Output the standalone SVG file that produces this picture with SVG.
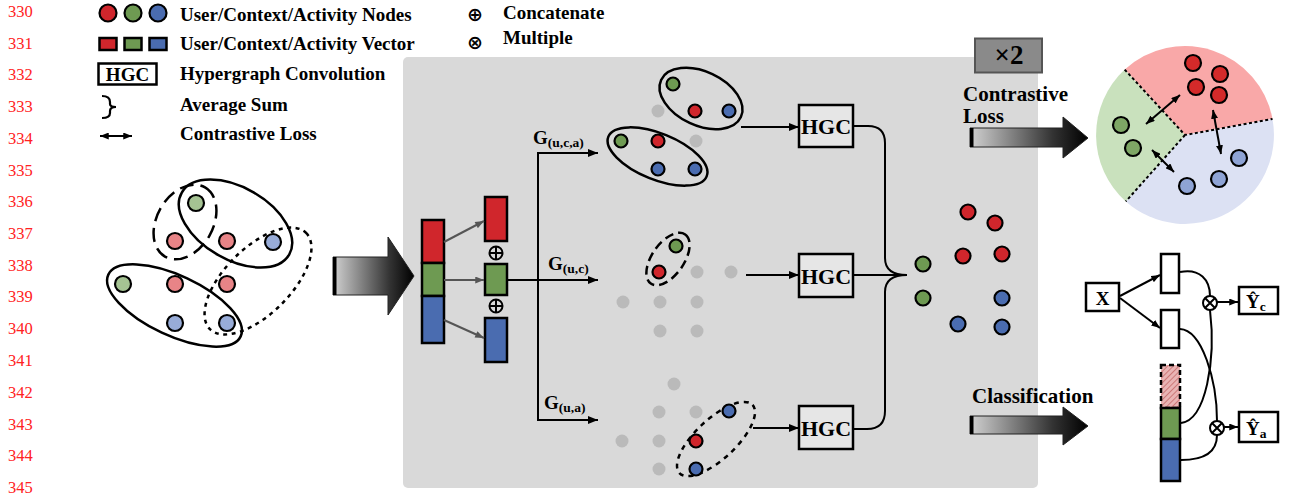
<svg xmlns="http://www.w3.org/2000/svg" width="1291" height="496" viewBox="0 0 1291 496">
<style>
.ln{font-family:"Liberation Serif","Times New Roman",serif;font-size:16.5px;fill:#f22}
.lg{font-family:"Liberation Serif","Times New Roman",serif;font-size:19px;font-weight:bold;fill:#000}
.sym{font-family:"DejaVu Sans",sans-serif;font-size:19px;font-weight:bold;fill:#000;text-anchor:middle}
.hgc{font-family:"Liberation Serif","Times New Roman",serif;font-size:22px;font-weight:bold;fill:#000;text-anchor:middle}
.g{font-family:"Liberation Serif","Times New Roman",serif;font-size:19px;font-weight:bold;fill:#000}
.sub{font-size:13.5px}
.big{font-family:"Liberation Serif","Times New Roman",serif;font-size:21px;font-weight:bold;fill:#000}
.box{fill:#fff;stroke:#000;stroke-width:2.5}
.hbox{fill:#e6e6e6;stroke:#000;stroke-width:2.5}
.n{stroke:#000;stroke-width:2.2}
.R{fill:#d0262c}.G{fill:#6e9a52}.B{fill:#4a6cb0}
.lr{fill:#e88487}.lgn{fill:#a5c393}.lb{fill:#98acd8}
.cb{fill:#8ea3d4}.cg{fill:#7ea765}.cr{fill:#d42a2a}
.gd{fill:#bababa}
.ell{fill:none;stroke:#000;stroke-width:2.5}
.wire{fill:none;stroke:#000;stroke-width:2}
.garr{fill:none;stroke:#555;stroke-width:2}
.vec{stroke:#000;stroke-width:2.5}
.op{fill:none;stroke:#000;stroke-width:2}
</style>
<defs>
<marker id="ah" viewBox="0 0 10 8" refX="10" refY="4" markerWidth="11" markerHeight="8" markerUnits="userSpaceOnUse" orient="auto-start-reverse"><path d="M0,0 L10,4 L0,8 Z" fill="#000"/></marker>
<marker id="ahs" viewBox="0 0 10 8" refX="10" refY="4" markerWidth="9" markerHeight="7" markerUnits="userSpaceOnUse" orient="auto-start-reverse"><path d="M0,0 L10,4 L0,8 Z" fill="#000"/></marker>
<marker id="ahg" viewBox="0 0 10 8" refX="10" refY="4" markerWidth="10" markerHeight="7" markerUnits="userSpaceOnUse" orient="auto"><path d="M0,0 L10,4 L0,8 Z" fill="#555"/></marker>
<linearGradient id="grad" x1="0" y1="0" x2="1" y2="0"><stop offset="0" stop-color="#d2d2d2"/><stop offset="0.7" stop-color="#333"/><stop offset="1" stop-color="#000"/></linearGradient>
<pattern id="hatch" width="4" height="4" patternUnits="userSpaceOnUse" patternTransform="rotate(45)"><rect width="4" height="4" fill="#e9b4b4"/><line x1="0" y1="0" x2="0" y2="4" stroke="#c56a6a" stroke-width="1.6"/></pattern>
</defs>

<g id="line-numbers">
<text class="ln" x="8" y="17">330</text>
<text class="ln" x="8" y="48.5">331</text>
<text class="ln" x="8" y="80">332</text>
<text class="ln" x="8" y="112">333</text>
<text class="ln" x="8" y="143.5">334</text>
<text class="ln" x="8" y="175.5">335</text>
<text class="ln" x="8" y="207">336</text>
<text class="ln" x="8" y="239">337</text>
<text class="ln" x="8" y="270.5">338</text>
<text class="ln" x="8" y="302">339</text>
<text class="ln" x="8" y="334">340</text>
<text class="ln" x="8" y="366">341</text>
<text class="ln" x="8" y="397.5">342</text>
<text class="ln" x="8" y="429.5">343</text>
<text class="ln" x="8" y="461">344</text>
<text class="ln" x="8" y="493">345</text>
</g>

<g id="legend">
<circle class="n R" cx="108" cy="13" r="8.5" stroke-width="2.5"/>
<circle class="n G" cx="133" cy="13" r="8.5" stroke-width="2.5"/>
<circle class="n B" cx="158" cy="13" r="8.5" stroke-width="2.5"/>
<text class="lg" x="180" y="21">User/Context/Activity Nodes</text>
<rect class="vec R" x="99.5" y="38" width="17" height="12"/>
<rect class="vec G" x="124.5" y="38" width="17" height="12"/>
<rect class="vec B" x="149.5" y="38" width="17" height="12"/>
<text class="lg" x="180" y="50">User/Context/Activity Vector</text>
<rect class="box" x="98.5" y="63.5" width="58" height="21"/>
<text class="lg" x="127.5" y="81" text-anchor="middle">HGC</text>
<text class="lg" x="180" y="80">Hypergraph Convolution</text>
<path d="M102,96 Q110,96 110,102 L110,104 Q110,107 116,107 Q110,107 110,111 L110,113 Q110,118 102,118" fill="none" stroke="#000" stroke-width="2.2"/>
<text class="lg" x="180" y="110.5">Average Sum</text>
<line x1="100" y1="136" x2="132" y2="136" stroke="#000" stroke-width="2" marker-start="url(#ahs)" marker-end="url(#ahs)"/>
<text class="lg" x="180" y="139.5">Contrastive Loss</text>
<text class="sym" x="475" y="21">⊕</text>
<text class="lg" x="503" y="19">Concatenate</text>
<text class="sym" x="475" y="49">⊗</text>
<text class="lg" x="503" y="44">Multiple</text>
</g>

<g id="input-hypergraph">
<ellipse class="ell" cx="235.5" cy="223.5" rx="62" ry="36" transform="rotate(30 235.5 223.5)"/>
<ellipse class="ell" cx="174.5" cy="305.5" rx="73" ry="30" transform="rotate(25 174.5 305.5)"/>
<ellipse class="ell" cx="185" cy="222" rx="40" ry="28" transform="rotate(-60 185 222)" stroke-dasharray="14 7"/>
<ellipse class="ell" cx="258" cy="281" rx="68" ry="33" transform="rotate(-45 258 281)" stroke-dasharray="4 4.5"/>
<circle class="n lgn" cx="196" cy="203" r="8"/>
<circle class="n lr" cx="175" cy="241" r="8"/>
<circle class="n lr" cx="227" cy="241" r="8"/>
<circle class="n lb" cx="273" cy="242" r="8"/>
<circle class="n lgn" cx="123" cy="284" r="8"/>
<circle class="n lr" cx="175" cy="284" r="8"/>
<circle class="n lr" cx="227" cy="284" r="8"/>
<circle class="n lb" cx="175" cy="323" r="8"/>
<circle class="n lb" cx="227" cy="323" r="8"/>
</g>

<g id="panel">
<rect x="403" y="57" width="635" height="431" rx="5" fill="#d9d9d9"/>
</g>

<g id="input-arrow">
<path d="M333,257 L388,257 L388,237 L414,276 L388,315 L388,295 L333,295 Z" fill="url(#grad)" stroke="#222" stroke-width="1"/>
<rect x="333" y="257" width="3.5" height="38" fill="#000"/>
</g>

<g id="times-two">
<rect x="975" y="38.5" width="67" height="34" fill="#8a8a8a" stroke="#555" stroke-width="2"/>
<text x="1009" y="64" text-anchor="middle" font-family="Liberation Serif,serif" font-size="27" font-weight="bold" fill="#000">×2</text>
</g>

<g id="embedding-stack">
<rect class="vec R" x="422" y="220" width="22" height="43"/>
<rect class="vec G" x="422" y="263" width="22" height="33"/>
<rect class="vec B" x="422" y="296" width="22" height="47"/>
</g>
<g id="vector-user"><rect class="vec R" x="485" y="197" width="22" height="44"/></g>
<g id="vector-context"><rect class="vec G" x="485" y="264" width="22" height="31"/></g>
<g id="vector-activity"><rect class="vec B" x="485" y="318" width="22" height="44"/></g>
<g id="concat-ops">
<circle class="op" cx="496" cy="253" r="6.5"/><path class="op" d="M489.5,253 H502.5 M496,246.5 V259.5"/>
<circle class="op" cx="496" cy="306" r="6.5"/><path class="op" d="M489.5,306 H502.5 M496,299.5 V312.5"/>
</g>

<g id="hyperedge-uca">
<ellipse class="ell" cx="701" cy="98.5" rx="44" ry="27" transform="rotate(25 701 98.5)"/>
<ellipse class="ell" cx="657.5" cy="156.5" rx="53" ry="23" transform="rotate(22 657.5 156.5)"/>
<circle class="gd" cx="658" cy="111" r="6.5"/>
<circle class="gd" cx="696" cy="141" r="6.5"/>
<circle class="n G" cx="673" cy="84" r="6.5"/>
<circle class="n R" cx="695" cy="111" r="6.5"/>
<circle class="n B" cx="729" cy="111" r="6.5"/>
<circle class="n G" cx="621" cy="141" r="6.5"/>
<circle class="n R" cx="658" cy="141" r="6.5"/>
<circle class="n B" cx="658" cy="169" r="6.5"/>
<circle class="n B" cx="695" cy="169" r="6.5"/>
</g>

<g id="hyperedge-uc">
<ellipse class="ell" cx="668" cy="259" rx="30" ry="16" transform="rotate(-55 668 259)" stroke-dasharray="9 5"/>
<circle class="gd" cx="697" cy="272" r="6.5"/>
<circle class="gd" cx="731" cy="272" r="6.5"/>
<circle class="gd" cx="623" cy="302" r="6.5"/>
<circle class="gd" cx="660" cy="302" r="6.5"/>
<circle class="gd" cx="697" cy="302" r="6.5"/>
<circle class="gd" cx="660" cy="331" r="6.5"/>
<circle class="gd" cx="697" cy="331" r="6.5"/>
<circle class="n G" cx="676" cy="246" r="6.5"/>
<circle class="n R" cx="659" cy="272" r="6.5"/>
</g>

<g id="hyperedge-ua">
<ellipse class="ell" cx="716" cy="439" rx="50" ry="20" transform="rotate(-43 716 439)" stroke-dasharray="5 5"/>
<circle class="gd" cx="674" cy="384" r="6.5"/>
<circle class="gd" cx="659" cy="412" r="6.5"/>
<circle class="gd" cx="696" cy="412" r="6.5"/>
<circle class="gd" cx="622" cy="441" r="6.5"/>
<circle class="gd" cx="659" cy="441" r="6.5"/>
<circle class="gd" cx="659" cy="469" r="6.5"/>
<circle class="n B" cx="729" cy="411" r="6.5"/>
<circle class="n R" cx="696" cy="441" r="6.5"/>
<circle class="n B" cx="696" cy="469" r="6.5"/>
</g>

<g id="hgc-1"><rect class="hbox" x="799" y="105" width="54" height="42"/><text class="hgc" x="826" y="134">HGC</text></g>
<g id="hgc-2"><rect class="hbox" x="799" y="254" width="54" height="43"/><text class="hgc" x="826" y="283.5">HGC</text></g>
<g id="hgc-3"><rect class="hbox" x="799" y="406" width="54" height="43"/><text class="hgc" x="826" y="435.5">HGC</text></g>

<g id="merged-nodes">
<circle class="n R" cx="968" cy="212" r="7.5"/>
<circle class="n R" cx="995" cy="223" r="7.5"/>
<circle class="n G" cx="923" cy="264" r="7.5"/>
<circle class="n R" cx="963" cy="256" r="7.5"/>
<circle class="n R" cx="1002" cy="254" r="7.5"/>
<circle class="n G" cx="923" cy="298" r="7.5"/>
<circle class="n B" cx="1002" cy="298" r="7.5"/>
<circle class="n B" cx="958" cy="324" r="7.5"/>
<circle class="n B" cx="1002" cy="327" r="7.5"/>
</g>

<g id="connectors">
<line class="garr" x1="444" y1="242" x2="484" y2="221" marker-end="url(#ahg)"/>
<line class="garr" x1="444" y1="280" x2="484" y2="280" marker-end="url(#ahg)"/>
<line class="garr" x1="444" y1="320" x2="484" y2="338" marker-end="url(#ahg)"/>
<path class="wire" d="M507,280 H538 M538,153 V420"/>
<line class="wire" x1="537" y1="153" x2="598" y2="153" marker-end="url(#ah)"/>
<line class="wire" x1="538" y1="280" x2="598" y2="280" marker-end="url(#ah)"/>
<line class="wire" x1="537" y1="420" x2="598" y2="420" marker-end="url(#ah)"/>
<line class="wire" x1="741" y1="127" x2="799" y2="127" marker-end="url(#ah)"/>
<line class="wire" x1="746" y1="275" x2="799" y2="275" marker-end="url(#ah)"/>
<line class="wire" x1="753" y1="428" x2="799" y2="428" marker-end="url(#ah)"/>
<path class="wire" stroke-width="2.5" d="M853,126 L868,126 Q885,126 885,143 L885,258 Q885,275 907,275"/>
<path class="wire" stroke-width="2.5" d="M853,275 L907,275"/>
<path class="wire" stroke-width="2.5" d="M907,275 Q885,275 885,292 L885,411 Q885,429 867,429 L853,429"/>
</g>

<g id="edge-labels">
<text class="g" x="533" y="144">G<tspan class="sub" dy="3">(u,c,a)</tspan></text>
<text class="g" x="548" y="270">G<tspan class="sub" dy="3">(u,c)</tspan></text>
<text class="g" x="544" y="409">G<tspan class="sub" dy="3">(u,a)</tspan></text>
</g>

<g id="contrastive-arrow">
<text class="big" x="963" y="101">Contrastive</text>
<text class="big" x="963" y="123">Loss</text>
<path d="M970,128 L1063,128 L1063,117 L1088,138 L1063,158 L1063,147 L970,147 Z" fill="url(#grad)" stroke="#222" stroke-width="1"/>
<rect x="970" y="128" width="3.5" height="19" fill="#000"/>
</g>

<g id="classification-arrow">
<text class="big" x="972" y="403">Classification</text>
<path d="M970,416 L1063,416 L1063,407 L1088,426 L1063,445 L1063,434 L970,434 Z" fill="url(#grad)" stroke="#222" stroke-width="1"/>
<rect x="970" y="416" width="3.5" height="18" fill="#000"/>
</g>

<g id="contrastive-space">
<path d="M1185,135 L1124.7,69.6 A89,89 0 0 1 1272.5,118.9 Z" fill="#f9a8a8"/>
<path d="M1185,135 L1272.5,118.9 A89,89 0 0 1 1125.8,201.4 Z" fill="#dce1f3"/>
<path d="M1185,135 L1125.8,201.4 A89,89 0 0 1 1124.7,69.6 Z" fill="#c9e1bd"/>
<path d="M1124.7,69.6 L1185,135 L1272.5,118.9 M1185,135 L1125.8,201.4" fill="none" stroke="#000" stroke-width="2" stroke-dasharray="3 2.5"/>
<circle class="n cr" cx="1193" cy="63" r="8"/>
<circle class="n cr" cx="1220" cy="74" r="8"/>
<circle class="n cr" cx="1196" cy="87" r="8"/>
<circle class="n cr" cx="1219" cy="95" r="8"/>
<circle class="n cg" cx="1121" cy="125" r="8"/>
<circle class="n cg" cx="1133" cy="148" r="8"/>
<circle class="n cb" cx="1239" cy="158" r="8"/>
<circle class="n cb" cx="1219" cy="179" r="8"/>
<circle class="n cb" cx="1187" cy="186" r="8"/>
<line x1="1146" y1="124" x2="1180" y2="95" stroke="#000" stroke-width="2" marker-start="url(#ahs)" marker-end="url(#ahs)"/>
<line x1="1213" y1="110" x2="1221" y2="154" stroke="#000" stroke-width="2" marker-start="url(#ahs)" marker-end="url(#ahs)"/>
<line x1="1152" y1="150" x2="1174" y2="172" stroke="#000" stroke-width="2" marker-start="url(#ahs)" marker-end="url(#ahs)"/>
</g>

<g id="classifier">
<rect class="box" x="1086" y="283" width="33" height="28"/>
<text class="g" x="1102.5" y="305" text-anchor="middle" font-size="21">X</text>
<rect class="box" x="1161" y="254" width="18" height="39"/>
<rect class="box" x="1161" y="310" width="18" height="38"/>
<rect x="1161" y="365" width="19" height="43" fill="url(#hatch)" stroke="#000" stroke-width="2.5" stroke-dasharray="5 3"/>
<rect class="vec G" x="1161" y="408" width="19" height="31"/>
<rect class="vec B" x="1161" y="439" width="19" height="42"/>
<line class="wire" x1="1120" y1="296" x2="1160" y2="275" marker-end="url(#ahs)"/>
<line class="wire" x1="1120" y1="298" x2="1160" y2="328" marker-end="url(#ahs)"/>
<path class="wire" d="M1180,272 C1200,268 1210,280 1210,296"/>
<path class="wire" d="M1210,310 C1216,360 1206,420 1181,423"/>
<path class="wire" d="M1180,329 C1202,330 1217,380 1217,421"/>
<path class="wire" d="M1181,460 C1205,460 1217,452 1217,435"/>
<circle class="op" cx="1210" cy="303" r="7" fill="#fff"/><path class="op" d="M1205,298 L1215,308 M1215,298 L1205,308"/>
<circle class="op" cx="1217" cy="428" r="7" fill="#fff"/><path class="op" d="M1212,423 L1222,433 M1222,423 L1212,433"/>
<line class="wire" x1="1217" y1="302" x2="1238" y2="302" marker-end="url(#ahs)"/>
<line class="wire" x1="1224" y1="427" x2="1238" y2="427" marker-end="url(#ahs)"/>
<rect class="box" x="1239" y="287" width="39" height="27"/>
<text class="g" x="1246" y="308" font-size="20">Ŷ<tspan class="sub" dy="3">c</tspan></text>
<rect class="box" x="1239" y="412" width="39" height="30"/>
<text class="g" x="1246" y="435" font-size="20">Ŷ<tspan class="sub" dy="3">a</tspan></text>
</g>
</svg>
